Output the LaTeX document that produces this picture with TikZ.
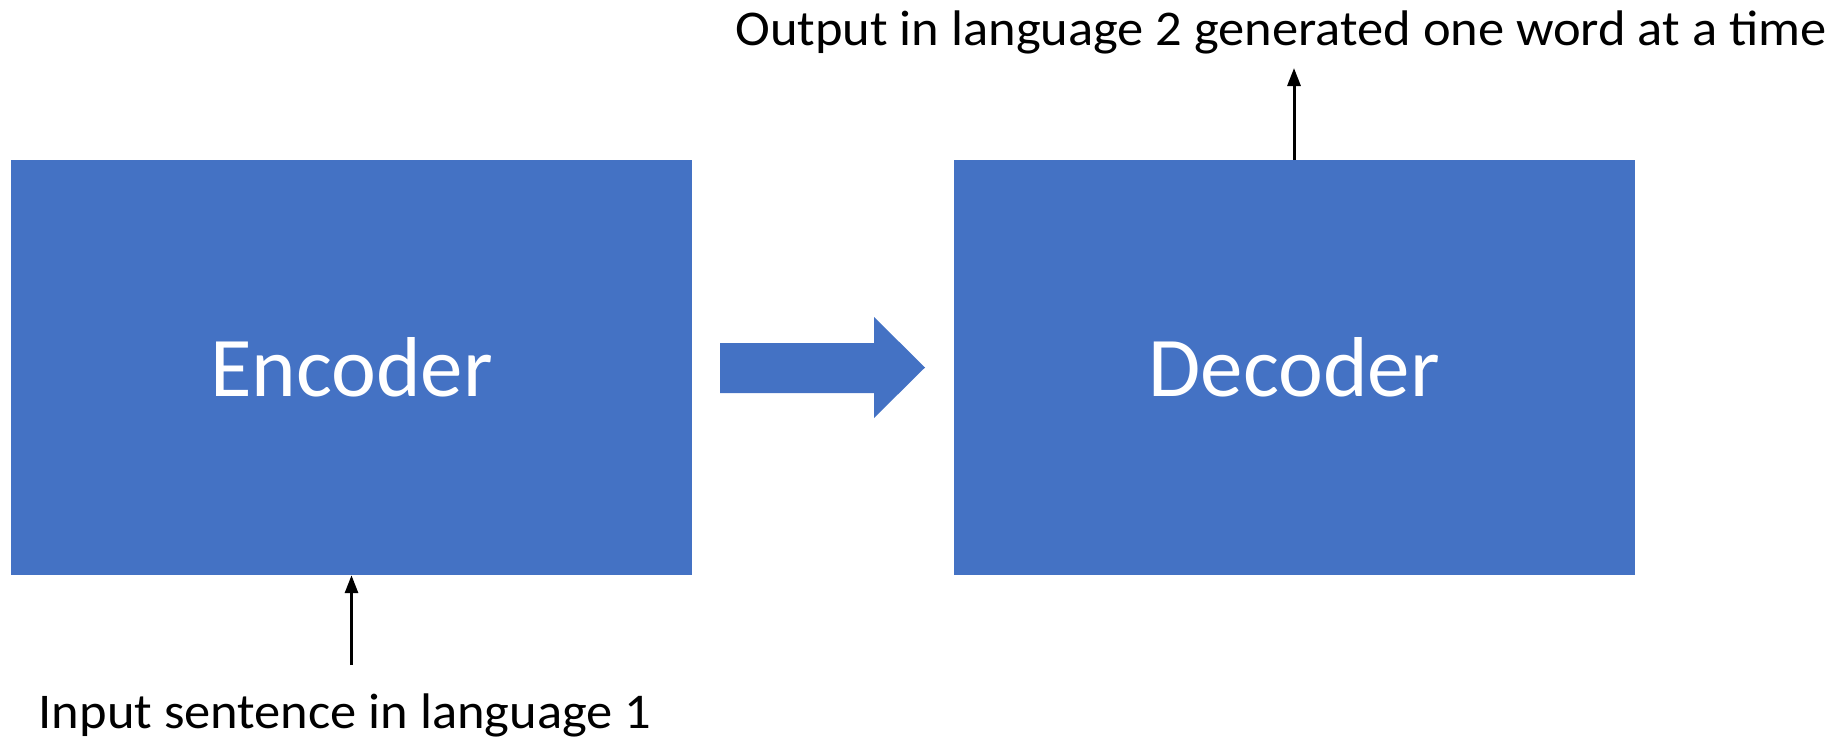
\documentclass[tikz,border=0pt]{standalone}
\usepackage{fontspec}
\setmainfont{Carlito}
\newfontfamily\capfont[FakeStretch=1.05]{Carlito}
\usetikzlibrary{arrows.meta}
\definecolor{boxblue}{HTML}{4472C4}
\begin{document}
\begin{tikzpicture}[x=1pt,y=-1pt,
  block/.style={fill=boxblue,draw=none,minimum width=681pt,minimum height=415pt,
    inner sep=0pt,text=white,font=\fontsize{85}{85}\selectfont},
  caption/.style={inner sep=0pt,anchor=base,font=\capfont\fontsize{50}{50}\selectfont},
  flow/.style={line width=3pt,-{Triangle[length=18pt,width=13pt]}}]
\useasboundingbox (0,0) rectangle (1848,737);
% the two processing blocks
\node[block] (enc) at (351.5,367.5) {Encoder};
\node[block] (dec) at (1294,367.5) {Decoder};
% wide arrow joining them
\fill[boxblue] (720,343) -- (874,343) -- (874,317) -- (925,367.5) -- (874,418)
  -- (874,393) -- (720,393) -- cycle;
% labels
\node[caption] (inlab) at (345,728) {Input sentence in language 1};
\node[caption] (outlab) at (1281,45) {Output in language 2 generated one word at a time};
% thin arrows
\coordinate (inTail) at (351.5,665);
\coordinate (outTip) at (1294,68);
\draw[flow] (inTail) -- (enc.south);
\draw[flow] (dec.north) -- (outTip);
\end{tikzpicture}
\end{document}
